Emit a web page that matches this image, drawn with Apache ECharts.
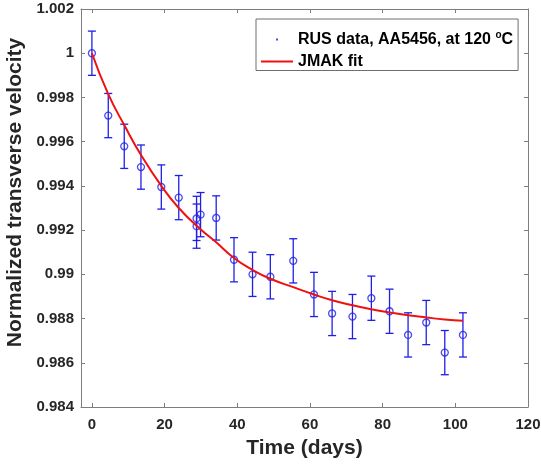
<!DOCTYPE html>
<html>
<head>
<meta charset="utf-8">
<script src="https://cdn.jsdelivr.net/npm/echarts@6/dist/echarts.min.js"></script>
<style>
  html, body { margin: 0; padding: 0; background: #ffffff; }
  #chart { width: 541px; height: 466px; }
</style>
</head>
<body>
<div id="chart"></div>
<script>
// ---- data ----
const days = [0, 4.5, 8.9, 13.5, 19.1, 23.9, 28.8, 28.8, 29.9, 34.2, 39.1, 44.2, 49.1, 55.4, 61.1, 66.1, 71.7, 76.9, 81.9, 87.0, 92.0, 97.1, 102.1];
const velocity = [1.0000, 0.99718, 0.99579, 0.99485, 0.99395, 0.99347, 0.99253, 0.99218, 0.99270, 0.99255, 0.99066, 0.99000, 0.98989, 0.99061, 0.98909, 0.98823, 0.98809, 0.98892, 0.98833, 0.98726, 0.98782, 0.98646, 0.98726];
const errors = [0.001, 0.001, 0.001, 0.001, 0.001, 0.001, 0.001, 0.001, 0.001, 0.001, 0.001, 0.001, 0.001, 0.001, 0.001, 0.001, 0.001, 0.001, 0.001, 0.001, 0.001, 0.001, 0.001];
const fitDays = [0, 4.5, 8.9, 13.5, 19.1, 23.9, 29.8, 34.2, 39.0, 44.2, 49.1, 55.4, 61.1, 66.1, 71.7, 76.9, 81.9, 87.0, 92.0, 97.1, 102.1];
const fitValues = [1.0000, 0.99815, 0.99675, 0.99540, 0.99400, 0.99300, 0.99205, 0.99145, 0.99075, 0.99020, 0.98980, 0.98942, 0.98909, 0.98883, 0.98860, 0.98842, 0.98828, 0.98815, 0.98805, 0.98796, 0.98790];
const xTicks = [0, 20, 40, 60, 80, 100, 120];
const yTicks = [0.984, 0.986, 0.988, 0.990, 0.992, 0.994, 0.996, 0.998, 1.000, 1.002];
const dataName = 'RUS data, AA5456, at 120 °C';
const fitName = 'JMAK fit';
const xTitle = 'Time (days)';
const yTitle = 'Normalized transverse velocity';

// ---- chart ----
const FONT = '"Liberation Sans", Arial, sans-serif';
const AXIS_COLOR = '#7d7d7d';
const TEXT_COLOR = '#262626';
const BLUE = '#1f1fe8';
const RED = '#f01010';

const chart = echarts.init(document.getElementById('chart'), null, { renderer: 'canvas' });

const pts = days.map((d, i) => [d, velocity[i], errors[i]]);
const fitPts = fitDays.map((d, i) => [d, fitValues[i]]);

function yFmt(v) { return String(parseFloat(Number(v).toFixed(3))); }

const commonX = {
  type: 'value', min: -3, max: 120,
  splitLine: { show: false },
  axisLine: { show: true, onZero: false, lineStyle: { color: AXIS_COLOR, width: 1 } },
  axisTick: { show: true, inside: true, length: 4, customValues: xTicks, lineStyle: { color: AXIS_COLOR } }
};
const commonY = {
  type: 'value', min: 0.984, max: 1.002,
  splitLine: { show: false },
  axisLine: { show: true, onZero: false, lineStyle: { color: AXIS_COLOR, width: 1 } },
  axisTick: { show: true, inside: true, length: 4, customValues: yTicks, lineStyle: { color: AXIS_COLOR } }
};

chart.setOption({
  animation: false,
  backgroundColor: '#ffffff',
  textStyle: { fontFamily: FONT },
  grid: { left: 81, right: 13, top: 9, bottom: 59, outerBoundsMode: 'none', containLabel: false },
  xAxis: [
    Object.assign({}, commonX, {
      position: 'bottom',
      name: xTitle, nameLocation: 'middle', nameGap: 31,
      nameTextStyle: { fontFamily: FONT, fontSize: 21, fontWeight: 'bold', color: TEXT_COLOR, lineHeight: 21 },
      axisLabel: { show: true, customValues: xTicks, margin: 10, fontFamily: FONT, fontSize: 15, fontWeight: 'bold', color: TEXT_COLOR, lineHeight: 15 }
    }),
    Object.assign({}, commonX, { position: 'top', axisLabel: { show: false } })
  ],
  yAxis: [
    Object.assign({}, commonY, {
      position: 'left',
      name: yTitle, nameLocation: 'middle', nameGap: 47,
      nameTextStyle: { fontFamily: FONT, fontSize: 21, fontWeight: 'bold', color: TEXT_COLOR, lineHeight: 21, padding: [0, 0, 0, 31] },
      axisLabel: { show: true, customValues: yTicks, margin: 7, formatter: yFmt, fontFamily: FONT, fontSize: 15, fontWeight: 'bold', color: TEXT_COLOR }
    }),
    Object.assign({}, commonY, { position: 'right', axisLabel: { show: false } })
  ],
  legend: {
    orient: 'vertical',
    left: 256, top: 19,
    padding: [11, 5, 1, 5],
    itemGap: 6,
    itemWidth: 32, itemHeight: 14,
    itemTextGap: 3,
    backgroundColor: '#ffffff',
    borderColor: '#6e6e6e', borderWidth: 1, borderRadius: 0,
    selectedMode: false,
    data: [
      { name: dataName, icon: 'path://M0 0M32 14M15 6h2v2h-2z', itemStyle: { color: BLUE, borderWidth: 0 } },
      { name: fitName, icon: 'path://M0 0M32 14M0 6h32v2h-32z', itemStyle: { color: RED, borderWidth: 0 } }
    ],
    formatter: function (name) {
      if (name === dataName) return '{a|RUS data, AA5456, at 120 }{s|o}{a|C}';
      return '{a|' + name + '}';
    },
    textStyle: {
      fontFamily: FONT, fontSize: 16, fontWeight: 'bold', color: '#000000',
      rich: {
        a: { fontFamily: FONT, fontSize: 16, fontWeight: 'bold', color: '#000000', lineHeight: 20 },
        s: { fontFamily: FONT, fontSize: 10, fontWeight: 'bold', color: '#000000', padding: [0, 0, 9, 0] }
      }
    }
  },
  series: [
    {
      type: 'custom',
      name: 'errorbars',
      xAxisIndex: 0, yAxisIndex: 0,
      z: 2,
      silent: true,
      renderItem: function (params, api) {
        const x = api.value(0), y = api.value(1), e = api.value(2);
        const top = api.coord([x, y + e]);
        const bot = api.coord([x, y - e]);
        const hw = 4;
        const st = { stroke: BLUE, lineWidth: 1.3 };
        return {
          type: 'group',
          children: [
            { type: 'line', shape: { x1: top[0], y1: top[1], x2: bot[0], y2: bot[1] }, style: st },
            { type: 'line', shape: { x1: top[0] - hw, y1: top[1], x2: top[0] + hw, y2: top[1] }, style: st },
            { type: 'line', shape: { x1: bot[0] - hw, y1: bot[1], x2: bot[0] + hw, y2: bot[1] }, style: st }
          ]
        };
      },
      encode: { x: 0, y: 1 },
      data: pts
    },
    {
      type: 'scatter',
      name: dataName,
      xAxisIndex: 0, yAxisIndex: 0,
      z: 3,
      symbol: 'circle',
      symbolSize: 7,
      itemStyle: { color: 'rgba(255,255,255,0)', borderColor: BLUE, borderWidth: 1.3 },
      data: pts.map(p => [p[0], p[1]])
    },
    {
      type: 'line',
      name: fitName,
      xAxisIndex: 0, yAxisIndex: 0,
      z: 4,
      smooth: true,
      symbol: 'none',
      showSymbol: false,
      lineStyle: { color: RED, width: 2 },
      itemStyle: { color: RED },
      data: fitPts
    }
  ]
});
</script>
</body>
</html>
